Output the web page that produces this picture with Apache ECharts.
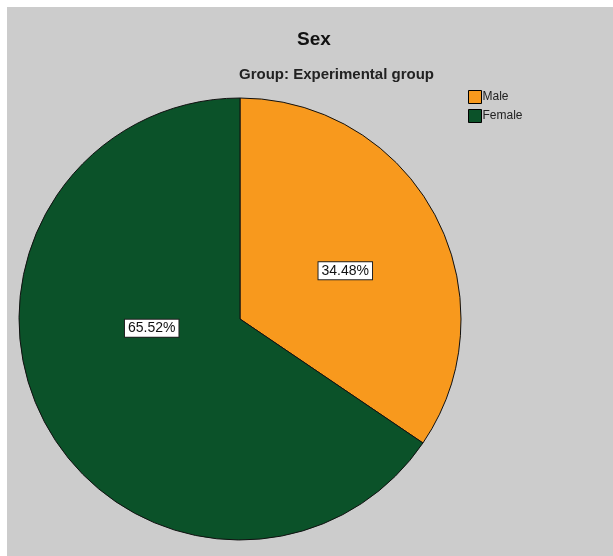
<!DOCTYPE html>
<html>
<head>
<meta charset="utf-8">
<script src="https://cdn.jsdelivr.net/npm/echarts@6/dist/echarts.min.js"></script>
<style>
html,body{margin:0;padding:0;background:#ffffff;}
#chart{position:absolute;left:7px;top:7px;width:606px;height:549px;}
</style>
</head>
<body>
<div id="chart"></div>
<script>
const titleText = 'Sex';
const subtitleText = 'Group: Experimental group';
const categories = ['Male', 'Female'];
const percentages = [34.48, 65.52];
const colors = ['#F8991D', '#0B5229'];

const chart = echarts.init(document.getElementById('chart'));
const cx = 233, cy = 312, R = 221;
chart.setOption({
  backgroundColor: '#cccccc',
  animation: false,
  title: [
    {text: titleText, left: 285, top: 18, textStyle: {fontFamily: 'Liberation Sans', fontSize: 19, fontWeight: 'bold', color: '#111'}},
    {text: subtitleText, left: 227, top: 55, textStyle: {fontFamily: 'Liberation Sans', fontSize: 15, fontWeight: 'bold', color: '#222'}}
  ],
  legend: {
    orient: 'vertical', left: 456, top: 78,
    itemWidth: 13, itemHeight: 13, itemGap: 5,
    icon: 'rect',
    textStyle: {fontFamily: 'Liberation Sans', fontSize: 12, color: '#222', padding: [0,0,0,-4]},
    itemStyle: {borderColor: '#000', borderWidth: 1},
    data: categories
  },
  series: [{
    type: 'pie',
    center: [cx, cy],
    radius: [0, R],
    startAngle: 90,
    clockwise: true,
    data: categories.map((c, i) => ({name: c, value: percentages[i], itemStyle: {color: colors[i]}})),
    itemStyle: {borderColor: '#111', borderWidth: 1},
    emphasis: {disabled: true},
    label: {
      position: 'inside',
      formatter: p => p.value.toFixed(2) + '%',
      fontFamily: 'Liberation Sans', fontSize: 14, color: '#111',
      backgroundColor: '#ffffff', borderColor: '#222', borderWidth: 1,
      padding: [2, 3, 1, 3]
    },
    labelLayout: function (params) {
      if (params.dataIndex === 1) return {dx: 12, dy: -44};
      return {dx: 5, dy: 5};
    }
  }]
});
</script>
</body>
</html>
